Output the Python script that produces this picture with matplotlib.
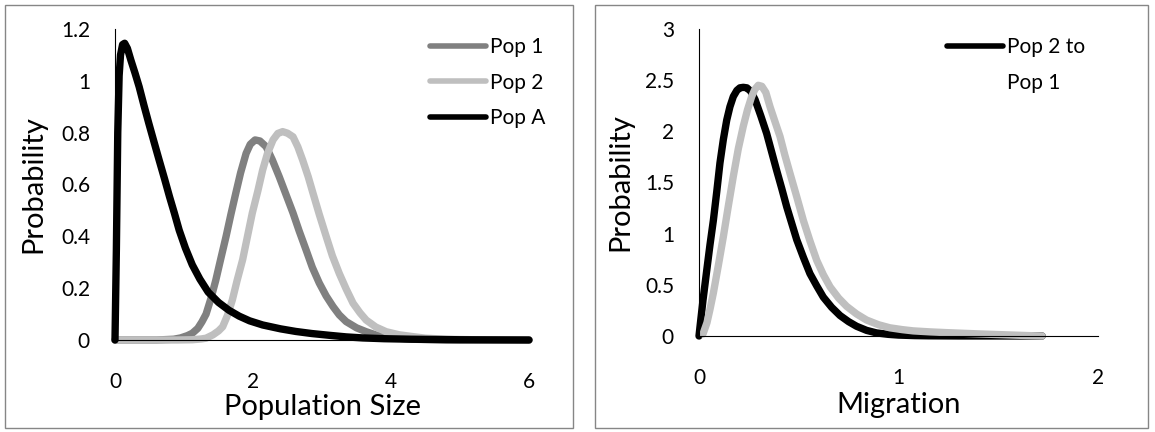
import matplotlib
matplotlib.use("Agg")
import matplotlib.pyplot as plt
from matplotlib.lines import Line2D
from matplotlib.patches import Rectangle
from matplotlib.ticker import FormatStrFormatter

plt.rcParams['font.family'] = ['Lato', 'DejaVu Sans']

# left panel: population size densities
pop1_x = [0, 0.6, 0.85, 0.95, 1.05, 1.12, 1.2, 1.26, 1.32, 1.39, 1.46, 1.53, 1.61, 1.68,
          1.75, 1.82, 1.90, 1.96, 2.03, 2.10, 2.19, 2.28, 2.38, 2.48, 2.58, 2.67, 2.77,
          2.86, 2.96, 3.06, 3.16, 3.25, 3.35, 3.5, 3.64, 3.8, 4.0, 4.3, 4.8, 6.0]
pop1_y = [0, 0, 0.003, 0.008, 0.017, 0.026, 0.045, 0.07, 0.10, 0.16, 0.23, 0.31, 0.40, 0.485,
          0.566, 0.645, 0.72, 0.755, 0.772, 0.768, 0.746, 0.695, 0.63, 0.56, 0.49, 0.42, 0.347,
          0.28, 0.22, 0.17, 0.129, 0.097, 0.071, 0.047, 0.032, 0.018, 0.009, 0.003, 0, 0]

pop2_x = [0, 0.9, 1.12, 1.25, 1.32, 1.42, 1.50, 1.56, 1.63, 1.70, 1.77, 1.85, 1.92, 1.99,
          2.07, 2.14, 2.21, 2.29, 2.36, 2.43, 2.50, 2.58, 2.65, 2.72, 2.80, 2.87, 2.96,
          3.06, 3.15, 3.25, 3.35, 3.45, 3.55, 3.64, 3.78, 3.93, 4.12, 4.32, 4.5, 4.8, 5.2, 6.0]
pop2_y = [0, 0, 0.001, 0.004, 0.007, 0.02, 0.035, 0.051, 0.095, 0.154, 0.23, 0.31, 0.40, 0.49,
          0.575, 0.656, 0.72, 0.772, 0.797, 0.804, 0.798, 0.784, 0.745, 0.694, 0.63, 0.566, 0.485,
          0.40, 0.325, 0.257, 0.197, 0.142, 0.105, 0.077, 0.05, 0.032, 0.02, 0.013, 0.007, 0.003,
          0.001, 0]

popA_x = [0, 0.02, 0.04, 0.06, 0.08, 0.11, 0.14, 0.18, 0.23, 0.29, 0.35, 0.42, 0.49, 0.57,
          0.64, 0.72, 0.79, 0.86, 0.93, 1.02, 1.12, 1.23, 1.35, 1.5, 1.65, 1.8, 1.95, 2.14,
          2.4, 2.62, 2.85, 3.11, 3.35, 3.59, 3.9, 4.3, 5.0, 6.0]
popA_y = [0, 0.35, 0.8, 1.02, 1.10, 1.14, 1.145, 1.125, 1.08, 1.03, 0.977, 0.905, 0.836, 0.76,
          0.694, 0.62, 0.553, 0.49, 0.424, 0.355, 0.29, 0.235, 0.185, 0.145, 0.115, 0.092, 0.074,
          0.058, 0.043, 0.033, 0.025, 0.018, 0.012, 0.008, 0.005, 0.003, 0.001, 0]

# right panel: migration densities
mig_black_x = [0, 0.005, 0.02, 0.039, 0.055, 0.072, 0.089, 0.105, 0.122, 0.139, 0.155, 0.172,
               0.19, 0.205, 0.222, 0.24, 0.26, 0.281, 0.31, 0.339, 0.364, 0.389, 0.415, 0.44,
               0.465, 0.49, 0.523, 0.556, 0.59, 0.623, 0.665, 0.707, 0.75, 0.79, 0.84, 0.89,
               0.95, 1.0, 1.08, 1.15, 1.3, 1.72]
mig_black_y = [0, 0.09, 0.35, 0.645, 0.89, 1.13, 1.41, 1.69, 1.92, 2.11, 2.24, 2.34,
               2.40, 2.425, 2.43, 2.425, 2.39, 2.31, 2.15, 1.98, 1.80, 1.62, 1.44, 1.26,
               1.10, 0.94, 0.77, 0.61, 0.49, 0.38, 0.28, 0.20, 0.14, 0.095, 0.055, 0.03,
               0.016, 0.009, 0.004, 0.002, 0.0005, 0]

mig_gray_x = [0.02, 0.04, 0.055, 0.072, 0.097, 0.122, 0.147, 0.172, 0.197, 0.222, 0.243, 0.264,
              0.28, 0.297, 0.315, 0.335, 0.356, 0.38, 0.406, 0.43, 0.456, 0.49, 0.523, 0.556,
              0.59, 0.623, 0.657, 0.70, 0.74, 0.79, 0.84, 0.9, 0.957, 1.02, 1.074, 1.16, 1.24,
              1.33, 1.41, 1.5, 1.575, 1.65, 1.72]
mig_gray_y = [0.02, 0.13, 0.26, 0.42, 0.69, 0.97, 1.27, 1.56, 1.83, 2.05, 2.21, 2.34,
              2.41, 2.45, 2.44, 2.38, 2.24, 2.10, 1.95, 1.77, 1.59, 1.36, 1.13, 0.93,
              0.74, 0.60, 0.48, 0.37, 0.29, 0.215, 0.156, 0.11, 0.08, 0.062, 0.05, 0.04, 0.033,
              0.026, 0.02, 0.014, 0.009, 0.004, 0.0]

left_ticks_x = [0, 2, 4, 6]
left_ticks_y = [0, 0.2, 0.4, 0.6, 0.8, 1.0, 1.2]
right_ticks_x = [0, 1, 2]
right_ticks_y = [0, 0.5, 1, 1.5, 2, 2.5, 3]

W, H = 1155, 432
fig = plt.figure(figsize=(W / 100, H / 100), dpi=100)

# chart-area borders
for x0, x1 in [(5, 573), (595, 1148)]:
    fig.patches.append(Rectangle((x0 / W, 4 / H), (x1 - x0) / W, (427 - 4) / H,
                                 transform=fig.transFigure, fill=False,
                                 edgecolor='#868686', linewidth=1.0))

ax1 = fig.add_axes([115 / W, 92 / H, 414 / W, 311 / H])
ax2 = fig.add_axes([699 / W, 96 / H, 399 / W, 307 / H])

kw = dict(linewidth=5.3, solid_capstyle='round', solid_joinstyle='round', clip_on=False)
ax1.plot(pop1_x, pop1_y, color='#808080', label='Pop 1', **kw)
ax1.plot(pop2_x, pop2_y, color='#bfbfbf', label='Pop 2', **kw)
ax1.plot(popA_x, popA_y, color='black', label='Pop A', **kw)

black_line, = ax2.plot(mig_black_x, mig_black_y, color='black', **kw)
ax2.plot(mig_gray_x, mig_gray_y, color='#bfbfbf', **kw)

ax1.set_xlim(0, 6)
ax1.set_ylim(0, 1.2)
ax1.set_xticks(left_ticks_x)
ax1.set_yticks(left_ticks_y)
ax2.set_xlim(0, 2)
ax2.set_ylim(0, 3)
ax2.set_xticks(right_ticks_x)
ax2.set_yticks(right_ticks_y)

for ax in (ax1, ax2):
    ax.yaxis.set_major_formatter(FormatStrFormatter('%g'))
    ax.xaxis.set_major_formatter(FormatStrFormatter('%g'))
    ax.spines['top'].set_visible(False)
    ax.spines['right'].set_visible(False)
    ax.spines['left'].set_linewidth(0.8)
    ax.spines['bottom'].set_linewidth(0.8)
    ax.tick_params(axis='both', length=0, labelsize=15, colors='black')
    ax.tick_params(axis='x', pad=23)
    ax.tick_params(axis='y', pad=18)
    ax.set_ylabel('Probability', fontsize=21)

ax1.set_xlabel('Population Size', fontsize=21)
ax2.set_xlabel('Migration', fontsize=21)
ax1.xaxis.set_label_coords(0.5, -0.215)
ax1.yaxis.set_label_coords(-0.196, 0.5)
ax2.xaxis.set_label_coords(0.5, -0.225)
ax2.yaxis.set_label_coords(-0.198, 0.5)
for ax in (ax1, ax2):
    ax.xaxis.label.set_va('center')
    ax.yaxis.label.set_va('center')

leg_kw = dict(frameon=False, fontsize=15, borderpad=0, borderaxespad=0,
              handlelength=2.7, handletextpad=0.2, labelspacing=0.75,
              loc='upper left', bbox_transform=fig.transFigure)
leg1 = ax1.legend(bbox_to_anchor=(430 / W, 1 - 37 / H), **leg_kw)
blank = Line2D([], [], color='none')
leg2 = ax2.legend([black_line, blank], ['Pop 2 to', 'Pop 1'],
                  bbox_to_anchor=(947 / W, 1 - 37 / H), **leg_kw)
for leg in (leg1, leg2):
    for ln in leg.get_lines():
        ln.set_linewidth(4.0)

fig.savefig('out.png', dpi=100)
